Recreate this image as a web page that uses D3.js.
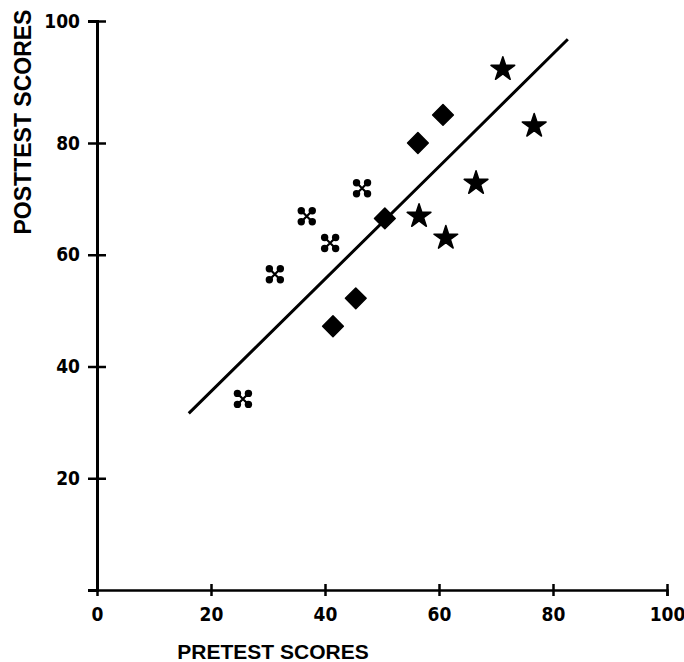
<!DOCTYPE html>
<html>
<head>
<meta charset="utf-8">
<script src="https://cdn.jsdelivr.net/npm/d3@7"></script>
<style>
    body { margin: 0; background: #fff; }
    .tick text { font-family: "Liberation Sans Narrow", "DejaVu Sans Condensed", sans-serif; font-weight: bold; font-size: 19px; fill: #000; }
    .title { font-family: "Liberation Sans", Arial, sans-serif; font-weight: bold; fill: #000; }
</style>
</head>
<body>
<script>
// pretest / posttest scores, three groups
var crossX = [25.6, 31.2, 36.8, 40.9, 46.5];
var crossY = [34.2, 56.5, 66.9, 62.1, 71.9];

var diamondX = [41.4, 45.4, 50.5, 56.3, 60.7];
var diamondY = [47.2, 52.2, 66.5, 80.0, 84.6];

var starX = [56.5, 61.2, 66.5, 71.2, 76.7];
var starY = [66.9, 63.0, 72.8, 92.1, 82.8];

// fitted line
var lineX = [16.1, 64.2, 82.6];
var lineY = [31.6, 80, 97.0];

var xTicks = [0, 20, 40, 60, 80, 100];
var yTicks = [20, 40, 60, 80, 100];

function init() {
    var w = 684;
    var h = 662;

    var xScale = d3.scaleLinear()
        .domain([0, 100])
        .range([97, 667]);

    // the printed axis is not quite even at the top, so one break point
    var yScale = d3.scaleLinear()
        .domain([0, 80, 100])
        .range([590, 143, 21]);

    var svg = d3.select("body")
        .append("svg")
        .attr("width", w)
        .attr("height", h);

    // x axis
    var xAxis = svg.append("g")
        .attr("transform", "translate(0," + yScale(0) + ")")
        .call(d3.axisBottom(xScale).tickValues(xTicks).tickSizeOuter(0).tickSize(6).tickPadding(12));
    xAxis.select(".domain").attr("stroke", "#000").attr("stroke-width", 2.5);
    xAxis.selectAll(".tick line")
        .attr("y1", -6)
        .attr("stroke", "#000")
        .attr("stroke-width", 2.5)
        .style("display", function(d) { return d === 0 ? "none" : null; });
    xAxis.selectAll(".tick text").attr("dy", "0.71em");

    // y axis
    var yAxis = svg.append("g")
        .attr("transform", "translate(" + xScale(0) + ",0)")
        .call(d3.axisLeft(yScale).tickValues(yTicks).tickSizeOuter(0).tickSize(9).tickPadding(8));
    yAxis.select(".domain").attr("stroke", "#000").attr("stroke-width", 3);
    yAxis.selectAll(".tick line")
        .attr("x2", 9)
        .attr("x1", -9)
        .attr("stroke", "#000")
        .attr("stroke-width", 2.5);

    // axis titles
    svg.append("text")
        .attr("class", "title")
        .attr("x", 273)
        .attr("y", 659)
        .attr("text-anchor", "middle")
        .style("font-size", "21px")
        .text("PRETEST SCORES");

    svg.append("text")
        .attr("class", "title")
        .attr("transform", "translate(31,122) rotate(-90)")
        .attr("text-anchor", "middle")
        .style("font-size", "23px")
        .text("POSTTEST SCORES");

    // regression line
    var line = d3.line()
        .x(function(d) { return xScale(d[0]); })
        .y(function(d) { return yScale(d[1]); });

    svg.append("path")
        .datum(d3.zip(lineX, lineY))
        .attr("d", line)
        .attr("fill", "none")
        .attr("stroke", "#000")
        .attr("stroke-width", 3);

    // crosses (four round petals)
    var crosses = svg.selectAll(".cross")
        .data(d3.zip(crossX, crossY))
        .enter()
        .append("g")
        .attr("class", "cross")
        .attr("transform", function(d) { return "translate(" + xScale(d[0]) + "," + yScale(d[1]) + ")"; });

    crosses.append("path")
        .attr("d", "M-5.5,-5.5L5.5,5.5M-5.5,5.5L5.5,-5.5")
        .attr("stroke", "#000")
        .attr("stroke-width", 2.2);

    crosses.selectAll("circle")
        .data([[-5.5, -5.5], [5.5, -5.5], [-5.5, 5.5], [5.5, 5.5]])
        .enter()
        .append("circle")
        .attr("cx", function(d) { return d[0]; })
        .attr("cy", function(d) { return d[1]; })
        .attr("r", 3.7)
        .attr("fill", "#000");

    // diamonds
    svg.selectAll(".diamond")
        .data(d3.zip(diamondX, diamondY))
        .enter()
        .append("path")
        .attr("class", "diamond")
        .attr("d", d3.symbol().type(d3.symbolSquare).size(215))
        .attr("transform", function(d) { return "translate(" + xScale(d[0]) + "," + yScale(d[1]) + ") rotate(45)"; })
        .attr("fill", "#000")
        .attr("stroke", "#000")
        .attr("stroke-width", 1.5)
        .attr("stroke-linejoin", "round");

    // stars
    svg.selectAll(".star")
        .data(d3.zip(starX, starY))
        .enter()
        .append("path")
        .attr("class", "star")
        .attr("d", d3.symbol().type(d3.symbolStar).size(175))
        .attr("transform", function(d) { return "translate(" + xScale(d[0]) + "," + yScale(d[1]) + ")"; })
        .attr("fill", "#000")
        .attr("stroke", "#000")
        .attr("stroke-width", 1.5)
        .attr("stroke-linejoin", "round");
}

window.onload = init;
</script>
</body>
</html>
